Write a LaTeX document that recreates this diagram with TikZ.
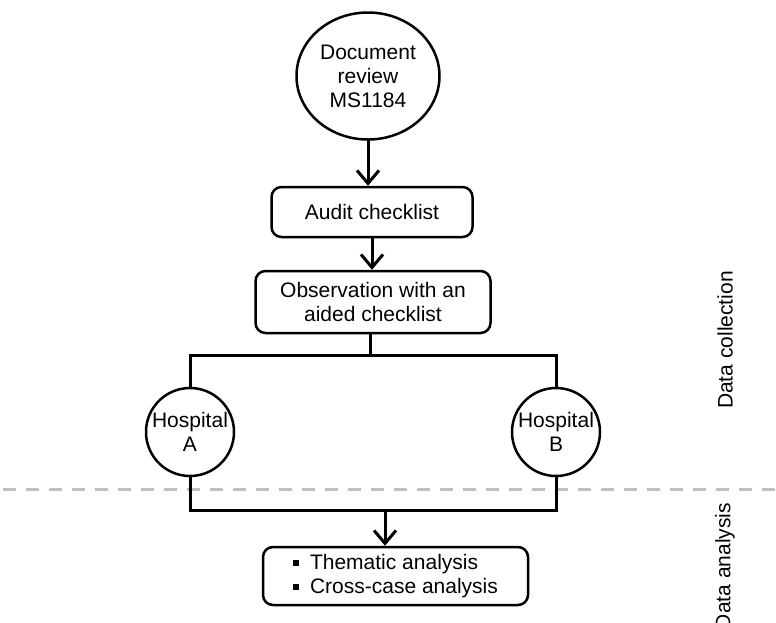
\documentclass[tikz,border=0pt]{standalone}
\usepackage{fontspec}
\setmainfont{Liberation Sans}
\usetikzlibrary{arrows.meta,shapes.geometric}
\tikzset{
  base/.style={draw=black, line width=2.5pt, fill=white, align=center, inner sep=0pt,
    font=\fontsize{21}{24}\selectfont},
  rbox/.style={base, rectangle, rounded corners=10pt},
  circ/.style={base, circle, minimum size=88pt},
  conn/.style={line width=3pt, line cap=rect},
  arr/.style={conn, -{Straight Barb[length=13pt,width=22pt,line width=3pt]}},
  sep/.style={line width=3pt, color=black!25, dash pattern=on 13pt off 10pt},
  side/.style={font=\fontsize{21}{24}\selectfont, rotate=90, inner sep=0pt}
}
\newcommand{\sqbullet}{\raisebox{3.5pt}{\rule{6pt}{6pt}}\hspace{11pt}}
\begin{document}
\begin{tikzpicture}[x=1pt,y=-1pt]
\useasboundingbox (0,0) rectangle (776,622);
% separator
\coordinate (dl) at (3,489);
\coordinate (dr) at (776,489);
\draw[sep] (dl) -- (dr);
% nodes
\node[base, ellipse, minimum width=143pt, minimum height=127pt] (doc) at (368,76) {Document\\review\\MS1184};
\node[rbox, minimum width=201pt, minimum height=50pt] (audit) at (372,212) {Audit checklist};
\node[rbox, minimum width=235pt, minimum height=62pt] (obs) at (373,302) {Observation with an\\aided checklist};
\node[circ] (hA) at (190,432) {Hospital\\A};
\node[circ] (hB) at (556,432) {Hospital\\B};
\node[rbox, minimum width=265pt, minimum height=58pt, align=left] (ana) at (395.5,576)
  {\sqbullet Thematic analysis\\\sqbullet Cross-case analysis};
% side labels
\node[side] (dc) at (725,340) {Data collection};
\node[side] (da) at (725,566) {Data analysis};
% connectors
\coordinate (jt) at (370,355);
\coordinate (jb) at (385,510);
\draw[arr] (doc.south) -- (doc.south |- audit.north);
\draw[arr] (audit.south) -- (audit.south |- obs.north);
\draw[conn] (obs.south -| jt) -- (jt);
\draw[conn] (hA.north) |- (jt) -| (hB.north);
\draw[conn] (hA.south) |- (jb) -| (hB.south);
\draw[arr] (jb) -- (jb |- ana.north);
\end{tikzpicture}
\end{document}
